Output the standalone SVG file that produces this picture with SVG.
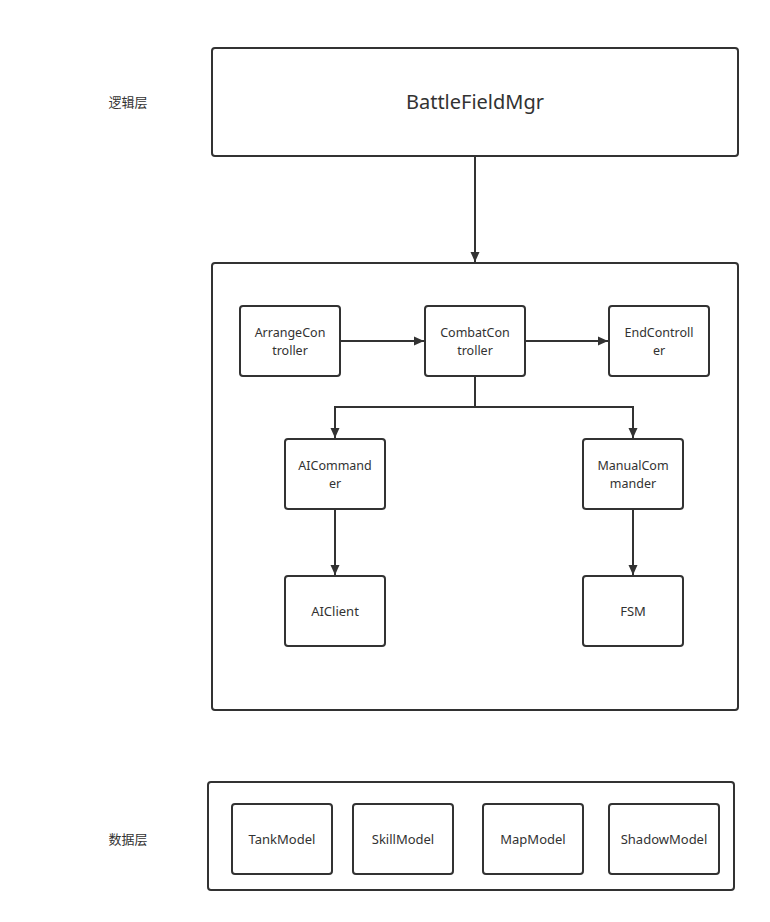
<svg xmlns="http://www.w3.org/2000/svg" width="770" height="922" viewBox="0 0 770 922">
  <style>
    .box { fill: #ffffff; stroke: #323232; stroke-width: 2; }
    .lbl { font-family: "Noto Sans", "Open Sans", "Liberation Sans", "Noto Sans CJK SC", sans-serif; font-size: 13px; fill: #323232; text-anchor: middle; }
    .two { font-size: 12.5px; }
    .big { font-size: 20px; }
    .layer { font-family: "Noto Sans CJK SC", "Noto Sans", sans-serif; font-size: 13px; fill: #323232; text-anchor: middle; }
    .wire { fill: none; stroke: #323232; stroke-width: 2; }
  </style>
  <defs>
    <marker id="arrow" viewBox="0 0 10 10" refX="10" refY="5" markerWidth="10" markerHeight="10" markerUnits="userSpaceOnUse" orient="auto">
      <path d="M0,0.5 L10,5 L0,9.5 Z" fill="#323232"/>
    </marker>
  </defs>
  <rect width="770" height="922" fill="#ffffff"/>

  <!-- layer captions -->
  <text class="layer" x="128" y="107">逻辑层</text>
  <text class="layer" x="128" y="844">数据层</text>

  <!-- containers -->
  <g id="battleFieldMgr">
    <rect class="box" x="212" y="48" width="526" height="108" rx="3"/>
    <text class="lbl big" x="475" y="109">BattleFieldMgr</text>
  </g>
  <g id="controllerLayer">
    <rect class="box" x="212" y="263" width="526" height="447" rx="3"/>
  </g>
  <g id="dataLayer">
    <rect class="box" x="208" y="782" width="526" height="108" rx="3"/>
  </g>

  <!-- controller nodes -->
  <g id="arrangeController">
    <rect class="box" x="240" y="306" width="100" height="70" rx="3"/>
    <text class="lbl two" x="290" y="337">ArrangeCon</text>
    <text class="lbl two" x="290" y="354.5">troller</text>
  </g>
  <g id="combatController">
    <rect class="box" x="425" y="306" width="100" height="70" rx="3"/>
    <text class="lbl two" x="475" y="337">CombatCon</text>
    <text class="lbl two" x="475" y="354.5">troller</text>
  </g>
  <g id="endController">
    <rect class="box" x="609" y="306" width="100" height="70" rx="3"/>
    <text class="lbl two" x="659" y="337">EndControll</text>
    <text class="lbl two" x="659" y="354.5">er</text>
  </g>
  <g id="aiCommander">
    <rect class="box" x="285" y="439" width="100" height="70" rx="3"/>
    <text class="lbl two" x="335" y="470">AICommand</text>
    <text class="lbl two" x="335" y="487.5">er</text>
  </g>
  <g id="manualCommander">
    <rect class="box" x="583" y="439" width="100" height="70" rx="3"/>
    <text class="lbl two" x="633" y="470">ManualCom</text>
    <text class="lbl two" x="633" y="487.5">mander</text>
  </g>
  <g id="aiClient">
    <rect class="box" x="285" y="576" width="100" height="70" rx="3"/>
    <text class="lbl" x="335" y="616">AIClient</text>
  </g>
  <g id="fsm">
    <rect class="box" x="583" y="576" width="100" height="70" rx="3"/>
    <text class="lbl" x="633" y="616">FSM</text>
  </g>

  <!-- data models -->
  <g id="tankModel">
    <rect class="box" x="232" y="804" width="100" height="70" rx="3"/>
    <text class="lbl" x="282" y="844">TankModel</text>
  </g>
  <g id="skillModel">
    <rect class="box" x="353" y="804" width="100" height="70" rx="3"/>
    <text class="lbl" x="403" y="844">SkillModel</text>
  </g>
  <g id="mapModel">
    <rect class="box" x="483" y="804" width="100" height="70" rx="3"/>
    <text class="lbl" x="533" y="844">MapModel</text>
  </g>
  <g id="shadowModel">
    <rect class="box" x="609" y="804" width="110" height="70" rx="3"/>
    <text class="lbl" x="664" y="844">ShadowModel</text>
  </g>

  <!-- connectors -->
  <g id="connectors">
    <path class="wire" d="M475,156 V262" marker-end="url(#arrow)"/>
    <path class="wire" d="M340,341 H424" marker-end="url(#arrow)"/>
    <path class="wire" d="M525,341 H608" marker-end="url(#arrow)"/>
    <path class="wire" d="M475,376 V407 H335 V438" marker-end="url(#arrow)"/>
    <path class="wire" d="M475,407 H633 V438" marker-end="url(#arrow)"/>
    <path class="wire" d="M335,509 V575" marker-end="url(#arrow)"/>
    <path class="wire" d="M633,509 V575" marker-end="url(#arrow)"/>
  </g>
</svg>
